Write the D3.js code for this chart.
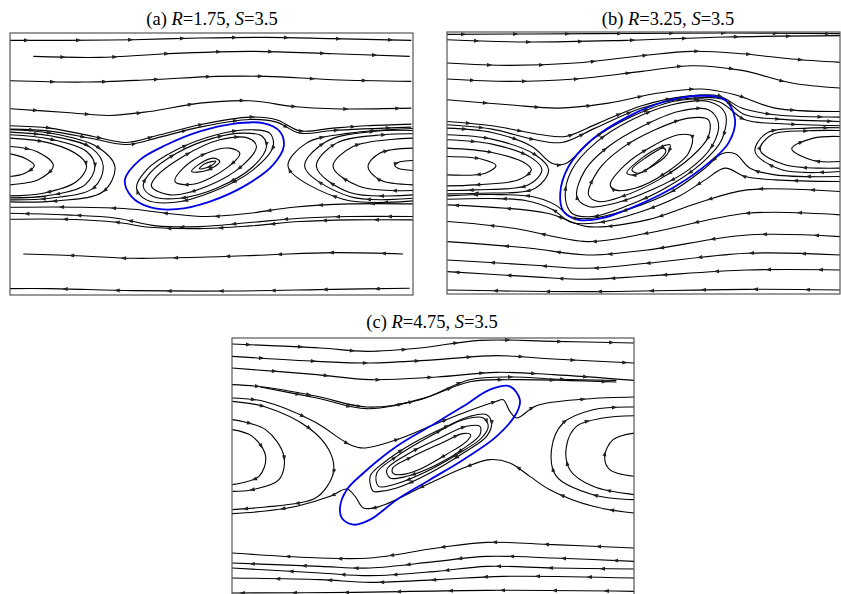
<!DOCTYPE html>
<html>
<head>
  <meta charset="utf-8" />
  <title>Streamlines</title>
  <script src="https://cdnjs.cloudflare.com/ajax/libs/d3/7.8.5/d3.min.js"></script>
  <style>
    body { margin: 0; background: #fff; }
    svg { display: block; }
    .title { font-family: "Liberation Serif", "Times New Roman", serif; font-size: 18.5px; }
    .frame { fill: none; stroke: #555; stroke-width: 1.2px; }
    .stream { fill: none; stroke: #000; stroke-width: 1.1px; }
    .orbit { fill: none; stroke: #0000e6; stroke-width: 1.8px; }
    .arrow { fill: #222; }
  </style>
</head>
<body>
  <svg id="chart" width="841" height="594"></svg>
  <script>
    // panel titles
    var panelLetters = ["(a)", "(b)", "(c)"];
    var rValues = ["1.75", "3.25", "4.75"];
    var sValues = ["3.5", "3.5", "3.5"];

    // ---- panel (a), traced units ----
    var aExtentX = [30, 1240], aExtentY = [100, 885];
    var aOpen = [
      // upper, flowing right
      [[30,122],[200,122],[400,120],[600,115],[800,113],[1000,117],[1235,122]],
      [[100,170],[300,173],[500,162],[750,155],[1000,162],[1230,170]],
      [[30,243],[250,247],[450,240],[650,230],[800,230],[1000,240],[1235,245]],
      [[30,327],[200,338],[330,347],[450,335],[600,310],[750,303],[880,320],[1000,327],[1235,325]],
      [[30,378],[150,385],[280,410],[380,428],[480,405],[600,375],[750,352],[830,360],[900,393],[1000,385],[1100,378],[1235,373]],
      [[30,388],[150,394],[280,417],[380,434],[480,412],[600,382],[750,359],[830,367],[900,400],[1000,392],[1235,382]],
      // left cell
      [[30,462],[75,475],[103,497],[75,520],[30,530]],
      [[30,440],[110,455],[160,497],[115,540],[30,555]],
      [[30,415],[150,430],[240,470],[260,500],[230,545],[130,580],[30,588]],
      [[30,405],[150,418],[260,455],[285,500],[255,555],[140,588],[30,594]],
      [[30,397],[150,408],[275,445],[310,500],[280,565],[150,595],[30,600]],
      [[30,390],[150,400],[290,440],[345,500],[310,575],[170,603],[30,606]],
      // right cell
      [[1240,512],[1195,505],[1185,497],[1195,488],[1240,482]],
      [[1240,555],[1140,540],[1105,500],[1140,460],[1240,445]],
      [[1240,572],[1080,560],[1000,500],[1060,440],[1240,415]],
      [[1240,585],[1050,578],[950,500],[1010,430],[1150,405],[1240,402]],
      [[1240,595],[1050,590],[915,500],[980,425],[1120,395],[1240,392]],
      [[1240,603],[1030,598],[865,500],[920,430],[1050,400],[1240,386]],
      // lower, flowing left
      [[1240,612],[1050,612],[880,622],[750,640],[620,650],[500,640],[400,628],[250,622],[30,622]],
      [[1240,650],[1050,650],[900,655],[750,668],[600,680],[470,678],[350,655],[200,645],[30,640]],
      [[1240,660],[1050,660],[900,665],[750,678],[600,686],[450,682],[350,667],[200,658],[30,658]],
      [[1210,762],[1000,758],[800,765],[600,772],[400,775],[250,768],[70,762]],
      [[1230,865],[1000,868],[700,873],[400,872],[150,866],[30,866]]
    ];
    var aLoops = [
      [[410,565],[440,510],[530,450],[650,405],[750,390],[810,400],[820,440],[760,510],[640,575],[520,608],[440,600]],
      [[430,560],[450,520],[530,460],[640,415],[730,400],[785,408],[800,440],[760,500],[650,565],[540,595],[460,590]],
      [[455,560],[465,535],[550,470],[660,420],[745,415],[770,440],[730,495],[620,560],[510,585]],
      [[525,545],[550,505],[620,460],[690,445],[720,460],[680,505],[580,553]],
      [[575,515],[595,495],[640,475],[660,485],[620,512]],
      [[598,507],[615,492],[648,484],[630,500]]
    ];
    var aOrbit = [[375,540],[420,480],[500,435],[600,395],[700,372],[790,370],[840,395],[852,440],[820,495],[740,555],[630,605],[530,628],[450,622],[395,590]];

    // ---- panel (b), traced units ----
    var bExtentX = [65, 1245], bExtentY = [97, 882];
    var bOpen = [
      [[65,104],[500,102],[900,100],[1245,102]],
      [[65,120],[300,127],[600,122],[900,112],[1245,108]],
      [[65,190],[250,197],[450,190],[650,168],[800,155],[950,162],[1100,178],[1245,188]],
      [[65,238],[250,245],[450,238],[650,215],[800,198],[950,212],[1100,250],[1245,265]],
      [[65,300],[250,315],[400,325],[550,310],[700,280],[830,268],[930,285],[1050,325],[1245,335]],
      [[65,365],[200,378],[350,405],[420,410],[520,370],[650,318],[780,290],[880,288],[950,325],[1050,345],[1245,352]],
      [[65,375],[200,388],[330,420],[410,428],[510,385],[650,325],[780,297],[890,298],[960,345],[1060,358],[1245,365]],
      [[65,385],[200,398],[320,440],[380,490],[420,492],[500,420],[620,350],[760,302],[880,305],[960,360],[1070,372],[1245,378]],
      // left cell
      [[65,470],[170,478],[212,497],[180,520],[65,525]],
      [[65,445],[200,458],[300,490],[318,510],[280,540],[150,555],[65,558]],
      [[65,420],[200,433],[320,475],[350,510],[310,555],[150,570],[65,572]],
      [[65,405],[200,418],[330,465],[370,510],[330,565],[160,580],[65,582]],
      // right cell
      [[1245,485],[1165,482],[1100,447],[1165,415],[1245,410]],
      [[1245,505],[1080,495],[1005,450],[1040,405],[1150,393],[1245,392]],
      [[1245,515],[1070,510],[990,455],[1025,400],[1150,385],[1245,384]],
      // lower, flowing left
      [[1245,530],[1050,525],[975,505],[930,462],[890,462],[840,505],[740,575],[620,625],[500,655],[440,652],[390,615],[320,590],[200,584],[65,588]],
      [[1245,545],[1050,540],[960,530],[900,505],[840,540],[760,590],[640,638],[520,668],[440,668],[380,628],[300,602],[200,596],[65,598]],
      [[1245,575],[966,570],[816,610],[666,660],[486,680],[366,640],[66,615]],
      [[1245,645],[966,640],[666,700],[486,725],[266,685],[66,665]],
      [[1245,710],[966,705],[666,750],[486,765],[316,745],[66,725]],
      [[1245,765],[966,760],[666,790],[486,805],[316,795],[66,780]],
      [[1245,810],[966,810],[666,828],[486,838],[316,830],[66,815]],
      [[1245,870],[966,868],[466,875],[66,870]]
    ];
    var bLoops = [
      [[420,590],[440,510],[510,430],[620,360],[740,315],[850,305],[900,340],[890,420],[830,490],[720,565],[600,620],[500,650],[440,640]],
      [[455,590],[480,510],[550,440],[650,380],[760,335],[850,330],[880,370],[860,440],[790,510],[680,570],[570,610],[490,620]],
      [[490,585],[520,510],[590,445],[690,390],[790,355],[850,360],[850,410],[800,470],[700,540],[590,590],[520,605]],
      [[555,555],[600,495],[680,440],[760,405],[800,410],[790,460],[720,520],[630,565],[570,570]],
      [[605,520],[650,475],[710,440],[735,435],[725,465],[680,500],[630,525]],
      [[620,510],[660,475],[715,445],[722,455],[690,490],[640,520]]
    ];
    var bOrbit = [[405,580],[430,500],[500,420],[600,355],[720,305],[830,288],[900,300],[930,360],[910,430],[850,490],[750,560],[640,615],[530,655],[460,660],[415,635]];

    // ---- panel (c), traced units ----
    var cExtentX = [35, 1243], cExtentY = [115, 901];
    var cOpen = [
      [[35,133],[300,145],[440,155],[600,145],[780,122],[1000,125],[1243,130]],
      [[35,170],[290,185],[450,190],[650,180],[830,168],[1000,178],[1243,190]],
      [[35,205],[290,225],[450,240],[650,232],[830,218],[1000,225],[1243,242]],
      [[35,255],[130,262],[290,290],[440,322],[600,300],[750,240],[880,232],[1000,238],[1190,242]],
      [[120,262],[290,295],[440,327],[610,296],[750,246],[880,240],[1190,247]],
      [[35,295],[130,305],[280,365],[390,435],[430,445],[530,420],[630,380],[730,340],[830,305],[850,300],[870,335],[890,355],[950,318],[1100,298],[1243,292]],
      // left cell
      [[36,390],[96,410],[136,470],[116,530],[36,555]],
      [[36,360],[136,390],[191,470],[176,540],[96,570],[36,575]],
      [[36,305],[136,322],[266,385],[326,450],[341,510],[321,560],[286,595],[236,610],[136,622],[36,630]],
      // right cell
      [[1245,530],[1170,510],[1155,470],[1180,420],[1245,400]],
      [[1245,585],[1120,560],[1050,510],[1040,440],[1070,380],[1150,355],[1245,348]],
      [[1245,600],[1120,585],[1010,530],[995,450],[1030,370],[1120,330],[1245,322]],
      // lower separatrix, flowing left
      [[1243,640],[1120,620],[990,570],[930,530],[870,490],[810,480],[730,505],[630,550],[480,620],[430,625],[405,590],[380,568],[330,590],[236,618],[136,634],[35,642]],
      // bottom, flowing left
      [[1243,745],[1000,735],[800,728],[650,745],[450,775],[300,775],[35,760]],
      [[1243,785],[1000,775],[800,770],[650,785],[450,805],[300,800],[35,790]],
      [[1243,808],[1000,805],[800,800],[650,815],[450,828],[300,820],[35,805]],
      [[1243,835],[850,830],[650,840],[450,848],[300,840],[35,835]],
      [[1243,875],[800,872],[400,878],[35,880]]
    ];
    var cLoops = [
      [[460,575],[450,530],[490,490],[580,430],[680,380],[750,350],[800,345],[815,370],[800,410],[730,460],[630,520],[530,565],[480,575]],
      [[475,560],[470,520],[530,470],[630,410],[730,360],[790,355],[805,380],[785,415],[710,465],[610,520],[520,555]],
      [[510,535],[500,510],[560,465],[660,415],[740,380],[780,380],[780,405],[740,440],[650,495],[560,530]],
      [[520,522],[518,505],[575,472],[670,428],[728,402],[752,405],[740,425],[678,465],[592,512],[545,525]]
    ];
    var cOrbit = [[360,620],[380,570],[430,520],[530,440],[630,380],[730,320],[810,270],[870,260],[900,300],[890,340],[830,410],[730,480],[630,540],[530,600],[450,660],[400,675],[365,655]];

    // layout on the page
    var panels = [
      { x: 10,  y: 33,  w: 403, h: 262, tx: 212, ty: 25,  ex: aExtentX, ey: aExtentY, open: aOpen, loops: aLoops, orbit: aOrbit },
      { x: 447, y: 32,  w: 393, h: 262, tx: 668, ty: 25,  ex: bExtentX, ey: bExtentY, open: bOpen, loops: bLoops, orbit: bOrbit },
      { x: 232, y: 338, w: 402, h: 262, tx: 432, ty: 328, ex: cExtentX, ey: cExtentY, open: cOpen, loops: cLoops, orbit: cOrbit }
    ];

    var svg = d3.select('#chart');

    panels.forEach(function (p, i) {
      // title
      var t = svg.append('text')
        .attr('class', 'title')
        .attr('x', p.tx)
        .attr('y', p.ty)
        .attr('text-anchor', 'middle');
      t.append('tspan').text(panelLetters[i] + ' ');
      t.append('tspan').attr('font-style', 'italic').text('R');
      t.append('tspan').text('=' + rValues[i] + ', ');
      t.append('tspan').attr('font-style', 'italic').text('S');
      t.append('tspan').text('=' + sValues[i]);

      var xScale = d3.scaleLinear().domain(p.ex).range([0, p.w]);
      var yScale = d3.scaleLinear().domain(p.ey).range([0, p.h]);

      svg.append('clipPath').attr('id', 'clip' + i)
        .append('rect').attr('width', p.w).attr('height', p.h);

      var g = svg.append('g').attr('transform', 'translate(' + p.x + ',' + p.y + ')');
      var inner = g.append('g').attr('clip-path', 'url(#clip' + i + ')');

      var openLine = d3.line()
        .x(d => xScale(d[0]))
        .y(d => yScale(d[1]))
        .curve(d3.curveCatmullRom.alpha(0.5));
      var closedLine = d3.line()
        .x(d => xScale(d[0]))
        .y(d => yScale(d[1]))
        .curve(d3.curveCatmullRomClosed.alpha(0.5));

      var streams = [];
      inner.selectAll('path.open')
        .data(p.open).enter()
        .append('path')
        .attr('class', 'stream open')
        .attr('d', openLine)
        .each(function () { streams.push(this); });

      inner.selectAll('path.loop')
        .data(p.loops).enter()
        .append('path')
        .attr('class', 'stream loop')
        .attr('d', closedLine)
        .each(function () { streams.push(this); });

      inner.append('path')
        .datum(p.orbit)
        .attr('class', 'orbit')
        .attr('stroke-width', i === 1 ? 1.3 : 1.8)
        .attr('d', closedLine);

      // arrow heads along each streamline, in flow direction
      var arrows = inner.append('g');
      streams.forEach(function (node, k) {
        var len = node.getTotalLength();
        var spacing = len < 120 ? Math.max(len / 2.5, 20) : 52;
        for (var s = 18 + (k * 13) % 30; s < len - 6; s += spacing) {
          var a = node.getPointAtLength(s);
          var b = node.getPointAtLength(s + 1);
          var ang = Math.atan2(b.y - a.y, b.x - a.x) * 180 / Math.PI;
          arrows.append('path')
            .attr('class', 'arrow')
            .attr('d', 'M1.5,0L-4,-2L-4,2Z')
            .attr('transform', 'translate(' + a.x + ',' + a.y + ') rotate(' + ang + ')');
        }
      });

      g.append('rect')
        .attr('class', 'frame')
        .attr('width', p.w)
        .attr('height', p.h);
    });
  </script>
</body>
</html>
